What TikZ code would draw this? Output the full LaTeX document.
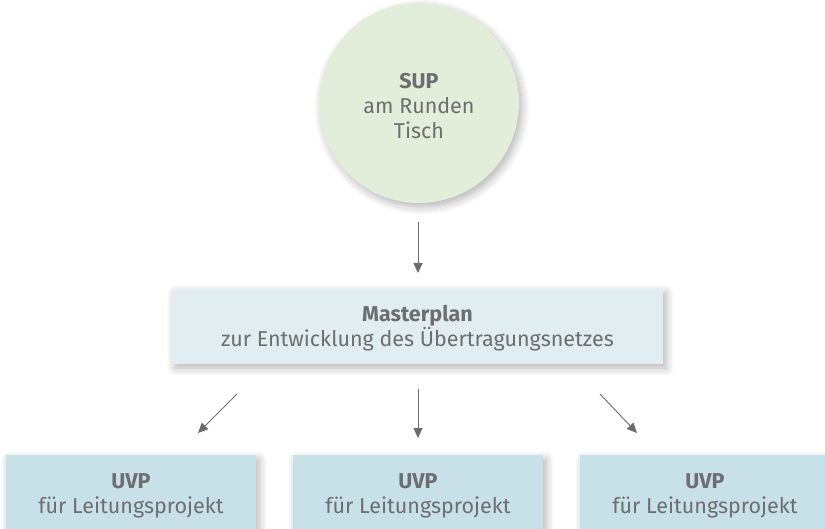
\documentclass[tikz,border=0pt]{standalone}
\usepackage{fontspec}
\setmainfont{Fira Sans}
\usetikzlibrary{arrows.meta,shadows.blur}
\definecolor{txt}{HTML}{6D6E70}
\definecolor{arr}{HTML}{6B6B6B}
\definecolor{circfill}{HTML}{E3EEDA}
\definecolor{mpfill}{HTML}{E1EDF1}
\definecolor{uvpfill}{HTML}{C8E0E7}
\tikzset{
  lbl/.style={text=txt, font=\fontsize{21.5}{25}\selectfont, align=center},
  shad/.style={blur shadow={shadow xshift=3pt, shadow yshift=-4pt, shadow blur steps=8, shadow opacity=30, shadow blur radius=8pt}},
  conn/.style={draw=arr, line width=0.9pt, -{Triangle[length=10pt,width=9pt]}},
}
\begin{document}
\begin{tikzpicture}[x=1pt,y=-1pt]
\useasboundingbox (0,0) rectangle (825,529);
\begin{scope}
\clip (0,0) rectangle (825,529);
\node[circle, fill=circfill, minimum size=200pt, inner sep=0pt, shad] (sup) at (419,103) {};
\node[lbl] at (419,106) {\textbf{SUP}\\am Runden\\Tisch};
\node[rectangle, fill=mpfill, minimum width=491pt, minimum height=75pt, inner sep=0pt, shad] (mp) at (417.5,326.5) {};
\node[lbl] at (417.5,328) {\textbf{Masterplan}\\zur Entwicklung des Übertragungsnetzes};
\node[rectangle, fill=uvpfill, minimum width=250pt, minimum height=90pt, inner sep=0pt, shad, anchor=north] (u1) at (131,455) {};
\node[rectangle, fill=uvpfill, minimum width=250pt, minimum height=90pt, inner sep=0pt, shad, anchor=north] (u2) at (418,455) {};
\node[rectangle, fill=uvpfill, minimum width=250pt, minimum height=90pt, inner sep=0pt, shad, anchor=north] (u3) at (705,455) {};
\end{scope}
\node[lbl] at (131,496) {\textbf{UVP}\\für Leitungsprojekt};
\node[lbl] at (418,496) {\textbf{UVP}\\für Leitungsprojekt};
\node[lbl] at (705,496) {\textbf{UVP}\\für Leitungsprojekt};
\coordinate (a0) at (418,222); \coordinate (a1) at (418,273);
\draw[conn] (a0) -- (a1);
\coordinate (b0) at (237,394); \coordinate (b1) at (198,433);
\coordinate (c0) at (418,389); \coordinate (c1) at (418,438);
\coordinate (d0) at (600,394); \coordinate (d1) at (637,433);
\draw[conn] (b0) -- (b1);
\draw[conn] (c0) -- (c1);
\draw[conn] (d0) -- (d1);
\end{tikzpicture}
\end{document}
